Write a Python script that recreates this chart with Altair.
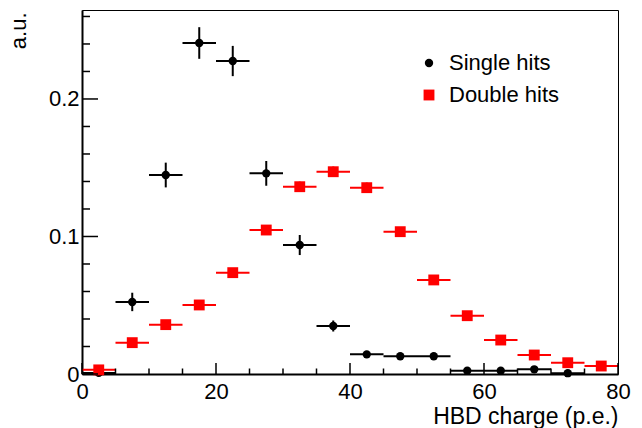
import altair as alt
import pandas as pd

# ---- data ----
bin_lo = [0, 5, 10, 15, 20, 25, 30, 35, 40, 45, 50, 55, 60, 65, 70, 75]
bin_hi = [5, 10, 15, 20, 25, 30, 35, 40, 45, 50, 55, 60, 65, 70, 75, 80]
bin_center = [2.5, 7.5, 12.5, 17.5, 22.5, 27.5, 32.5, 37.5, 42.5, 47.5, 52.5, 57.5, 62.5, 67.5, 72.5, 77.5]

single_vals = [0.0008, 0.0524, 0.1447, 0.2407, 0.2276, 0.1459, 0.0938, 0.0349,
               0.0143, 0.0129, 0.0129, 0.0024, 0.0024, 0.0034, 0.0006]
single_errs = [0.0008, 0.0067, 0.0090, 0.0115, 0.0110, 0.0090, 0.0073, 0.0040,
               0.0020, 0.0018, 0.0018, 0.0008, 0.0008, 0.0010, 0.0005]

double_vals = [0.0030, 0.0228, 0.0359, 0.0502, 0.0737, 0.1047, 0.1362, 0.1471,
               0.1355, 0.1035, 0.0684, 0.0424, 0.0247, 0.0138, 0.0082, 0.0058]
double_errs = [0.0006, 0.0015, 0.0019, 0.0022, 0.0027, 0.0032, 0.0037, 0.0038,
               0.0037, 0.0032, 0.0026, 0.0021, 0.0016, 0.0012, 0.0009, 0.0008]

series_names = ["Single hits", "Double hits"]
series_colors = ["#000000", "#ff0000"]
series_shapes = ["circle", "square"]

x_major = [0, 20, 40, 60, 80]
x_minor = [5, 10, 15, 25, 30, 35, 45, 50, 55, 65, 70, 75]
y_major = [0, 0.1, 0.2]
y_minor = [0.02, 0.04, 0.06, 0.08, 0.12, 0.14, 0.16, 0.18, 0.22, 0.24, 0.26]

X_MAX = 80
Y_MAX = 0.2647

W, H = 536, 364
FONT = "Liberation Sans"

# ---- tables ----
rows = []
for name, vals, errs in [("Single hits", single_vals, single_errs),
                         ("Double hits", double_vals, double_errs)]:
    for i, v in enumerate(vals):
        rows.append({
            "series": name,
            "x": bin_center[i], "xlo": bin_lo[i], "xhi": bin_hi[i],
            "y": v, "ylo": max(v - errs[i], 0), "yhi": v + errs[i],
        })
df = pd.DataFrame(rows)

xs = alt.Scale(domain=[0, X_MAX], nice=False, zero=False)
ys = alt.Scale(domain=[0, Y_MAX], nice=False, zero=False)

legend = alt.Legend(title=None, orient="none", legendX=336, legendY=42,
                    labelFont=FONT, labelFontSize=22, labelColor="black",
                    symbolSize=75, symbolStrokeWidth=0, symbolOpacity=1,
                    labelOffset=9, rowPadding=10, padding=0)
color_enc = alt.Color("series:N", scale=alt.Scale(domain=series_names, range=series_colors),
                      legend=legend)
shape_enc = alt.Shape("series:N", scale=alt.Scale(domain=series_names, range=series_shapes),
                      legend=legend)

base = alt.Chart(df)

x_axis = alt.Axis(values=x_major, format="d", ticks=False, tickSize=0, labelPadding=7,
                  labelFlush=False, labelFontSize=22, labelFont=FONT, labelColor="black",
                  title="HBD charge (p.e.)", titleFontSize=23, titleFont=FONT,
                  titleFontWeight="normal", titleColor="black",
                  titleAnchor="end", titleAlign="right", titleBaseline="alphabetic",
                  titleX=W, titleY=49, grid=False,
                  domainColor="black", domainWidth=2)
y_axis = alt.Axis(values=y_major, ticks=False, tickSize=0, labelPadding=3,
                  labelFlush=False,
                  labelExpr="datum.value == 0 ? '0' : format(datum.value, '.1f')",
                  labelFontSize=22, labelFont=FONT, labelColor="black",
                  title="a.u.", titleFontSize=22, titleFont=FONT,
                  titleFontWeight="normal", titleColor="black",
                  titleAngle=270, titleAlign="right", titleBaseline="alphabetic",
                  titleAnchor="end", titleX=-57, titleY=2, grid=False,
                  domainColor="black", domainWidth=2)

hbar = base.mark_rule(strokeWidth=2).encode(
    x=alt.X("xlo:Q", scale=xs, axis=x_axis),
    x2="xhi:Q",
    y=alt.Y("y:Q", scale=ys, axis=y_axis),
    color=color_enc,
)
vbar = base.mark_rule(strokeWidth=2).encode(
    x=alt.X("x:Q", scale=xs),
    y=alt.Y("ylo:Q", scale=ys),
    y2="yhi:Q",
    color=color_enc,
)
pts = base.mark_point(filled=True, opacity=1).encode(
    x=alt.X("x:Q", scale=xs),
    y=alt.Y("y:Q", scale=ys),
    color=color_enc,
    shape=shape_enc,
    size=alt.Size("series:N", scale=alt.Scale(domain=series_names, range=[70, 118]), legend=None),
    order=alt.Order("series:N", sort="descending"),
)

# inward tick marks
xmaj_df = pd.DataFrame({"t": x_major})
xmin_df = pd.DataFrame({"t": x_minor})
ymaj_df = pd.DataFrame({"t": y_major})
ymin_df = pd.DataFrame({"t": y_minor})

xt_major = alt.Chart(xmaj_df).mark_rule(color="black", strokeWidth=1.5).encode(
    x=alt.X("t:Q", scale=xs), y=alt.value(H), y2=alt.value(H - 11))
xt_minor = alt.Chart(xmin_df).mark_rule(color="black", strokeWidth=1.5).encode(
    x=alt.X("t:Q", scale=xs), y=alt.value(H), y2=alt.value(H - 5.5))
yt_major = alt.Chart(ymaj_df).mark_rule(color="black", strokeWidth=1.5).encode(
    y=alt.Y("t:Q", scale=ys), x=alt.value(0), x2=alt.value(16))
yt_minor = alt.Chart(ymin_df).mark_rule(color="black", strokeWidth=1.5).encode(
    y=alt.Y("t:Q", scale=ys), x=alt.value(0), x2=alt.value(8))

chart = alt.layer(hbar, vbar, pts, xt_major, xt_minor, yt_major, yt_minor).properties(
    width=W, height=H,
    autosize=alt.AutoSizeParams(type="none"),
    padding={"left": 74, "top": 2, "right": 16, "bottom": 54},
    background="white",
).configure_view(stroke="black", strokeWidth=1)

chart.save("out.html", embed_options={"renderer": "svg", "actions": False})
